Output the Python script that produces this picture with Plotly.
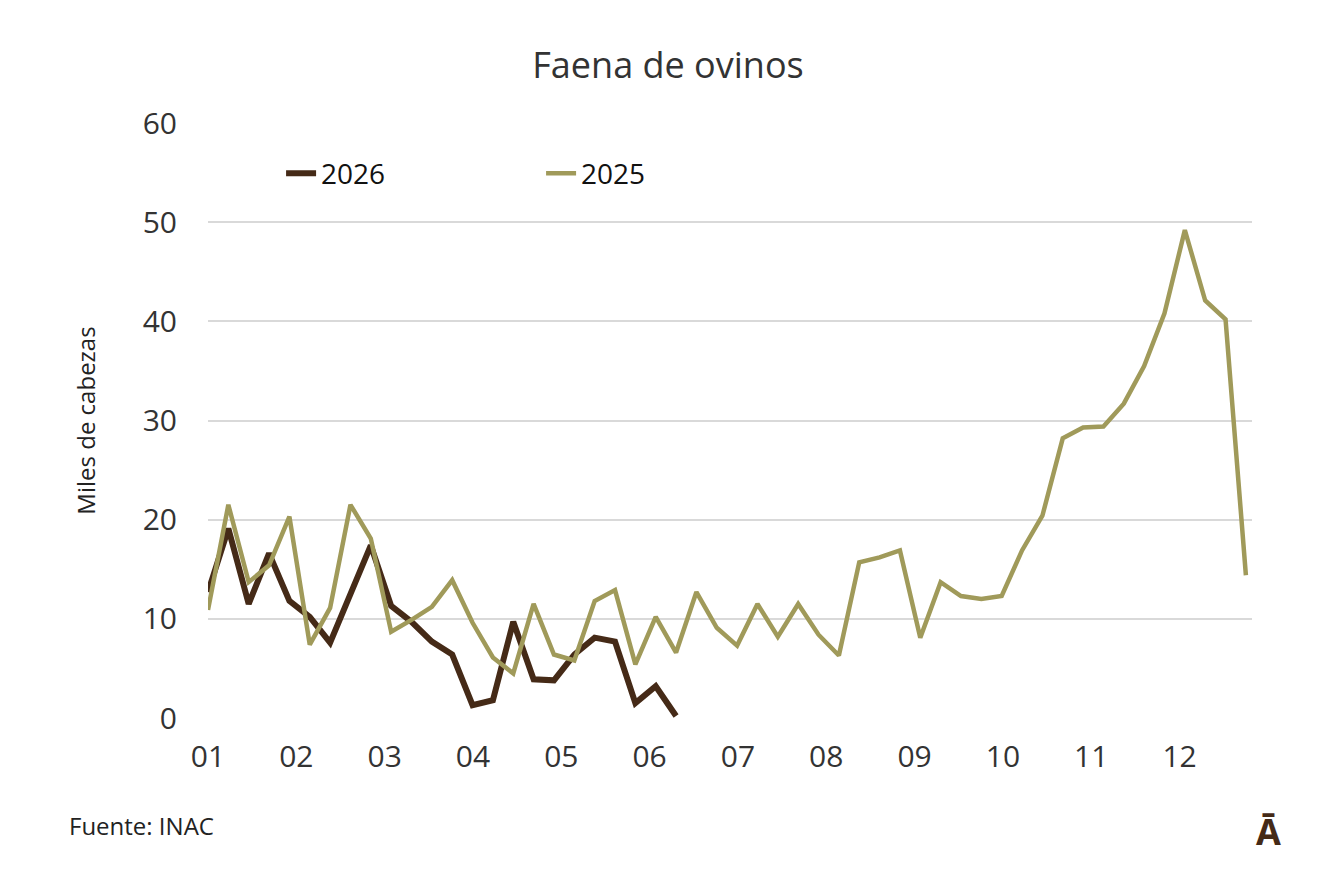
import plotly.graph_objects as go

s2025 = [10.9,21.5,13.7,15.4,20.3,7.4,11.1,21.5,18.1,8.7,9.9,11.2,13.9,9.6,6.1,4.5,11.5,6.4,5.8,11.8,
         12.9,5.4,10.2,6.6,12.7,9.1,7.3,11.5,8.2,11.5,8.4,6.3,15.7,16.2,16.9,8.1,13.7,12.3,12.0,12.3,
         16.9,20.4,28.2,29.3,29.4,31.7,35.5,40.8,49.2,42.1,40.2,14.4]
s2026 = [12.7,19.1,11.5,16.6,11.8,10.2,7.6,12.5,17.4,11.3,9.7,7.7,6.4,1.3,1.8,9.7,3.9,3.8,6.4,8.1,7.7,1.5,3.2,0.2]
months = ["01","02","03","04","05","06","07","08","09","10","11","12"]
weeks_per_month = 4.34

fig = go.Figure()
fig.add_trace(go.Scatter(x=list(range(len(s2026))), y=s2026, mode="lines", name="2026",
                         line=dict(color="#452a17", width=6)))
fig.add_trace(go.Scatter(x=list(range(len(s2025))), y=s2025, mode="lines", name="2025",
                         line=dict(color="#a09a5a", width=4.5)))
font = "Open Sans, Liberation Sans, sans-serif"
fig.update_layout(
    width=1320, height=878, paper_bgcolor="white", plot_bgcolor="white",
    margin=dict(l=200, r=76, t=115, b=168, autoexpand=False),
    font=dict(family=font, color="#333333"),
    title=dict(text="Faena de ovinos", x=0.5, xanchor="center", y=0.935, yanchor="middle",
               font=dict(size=36, color="#333333")),
    showlegend=True,
    legend=dict(orientation="h", x=0.07, y=0.915, xanchor="left", yanchor="middle",
                font=dict(size=28, color="#111111"), bgcolor="rgba(0,0,0,0)", entrywidth=215),
    xaxis=dict(range=[0, 51.3], tickvals=[i*weeks_per_month for i in range(12)], ticktext=months,
               showgrid=False, zeroline=False, showline=False, ticks="", ticklabelstandoff=18,
               tickfont=dict(size=30, color="#333333")),
    yaxis=dict(range=[0, 60], tickvals=[0,10,20,30,40,50,60], showgrid=True, gridcolor="#d9d9d9",
               gridwidth=1.5, zeroline=False, ticks="", ticklabelstandoff=30, automargin=False,
               tickfont=dict(size=30, color="#333333"),
               title=dict(text="Miles de cabezas", font=dict(size=24, color="#222222"), standoff=40)),
)
fig.add_annotation(text="Fuente: INAC", xref="paper", yref="paper", x=-0.135, y=-0.18,
                   xanchor="left", yanchor="middle", showarrow=False, font=dict(size=24, color="#222222"))
fig.add_annotation(text="<b>Ā</b>", xref="paper", yref="paper", x=1.03, y=-0.19,
                   xanchor="right", yanchor="middle", showarrow=False, font=dict(size=36, color="#452a17"))
fig.write_html("out.html")
